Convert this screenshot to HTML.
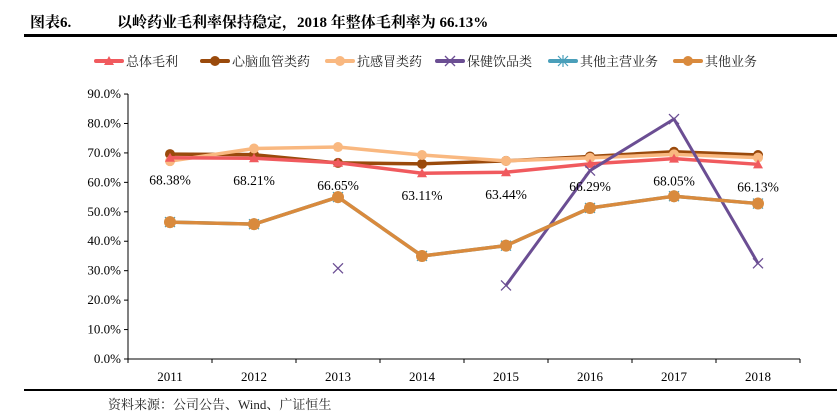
<!DOCTYPE html>
<html><head><meta charset="utf-8"><style>
body{margin:0;background:#fff;width:837px;height:415px;overflow:hidden;font-family:"Liberation Serif","Noto Serif CJK SC",serif;}
</style></head><body>
<svg width="837" height="415" xmlns="http://www.w3.org/2000/svg">
<text x="30" y="27" font-size="15" font-weight="bold" font-family="Liberation Serif,Noto Serif CJK SC,serif">图表6.</text>
<text x="117" y="27" font-size="15" font-weight="bold" font-family="Liberation Serif,Noto Serif CJK SC,serif">以岭药业毛利率保持稳定，2018 年整体毛利率为 66.13%</text>
<rect x="24" y="34" width="813" height="3" fill="#000"/>
<rect x="24" y="389" width="813" height="2" fill="#000"/>
<text x="108" y="409" font-size="13" fill="#222">资料来源：公司公告、Wind、广证恒生</text>
<g id="legend"></g>
<g id="axes"></g>
<g id="plot"></g>
</svg>
<script>
const categories=["2011","2012","2013","2014","2015","2016","2017","2018"];
const yTicks=[0,10,20,30,40,50,60,70,80,90];
const totalMargin=[68.38,68.21,66.65,63.11,63.44,66.29,68.05,66.13];
const totalLabels=["68.38%","68.21%","66.65%","63.11%","63.44%","66.29%","68.05%","66.13%"];
const cardio=[69.6,69.4,66.6,66.3,67.3,68.8,70.4,69.3];
const coldMed=[67.2,71.5,72.0,69.3,67.3,68.3,69.5,68.4];
const health=[null,null,30.8,null,25.0,64.0,81.5,32.5];
const otherMain=[46.5,45.8,55.0,35.0,38.5,51.3,55.3,52.8];
const otherBiz=[46.5,45.8,55.0,35.0,38.5,51.3,55.3,52.8];
const NS="http://www.w3.org/2000/svg";
const X0=128,STEP=84,Y0=359,YPER=2.944;
const xs=i=>X0+STEP*(i+0.5), ys=v=>Y0-v*YPER;
function el(t,a,p){const e=document.createElementNS(NS,t);for(const k in a)e.setAttribute(k,a[k]);p.appendChild(e);return e;}
const axes=document.getElementById('axes'),plot=document.getElementById('plot'),leg=document.getElementById('legend');
let yl=el('line',{x1:X0,y1:ys(90),x2:X0,y2:Y0,stroke:'#000','stroke-width':1},axes);

let xl=el('line',{x1:X0,y1:Y0,x2:X0+STEP*8,y2:Y0,stroke:'#000','stroke-width':1},axes);

yTicks.forEach(v=>{el('line',{x1:X0-4,y1:ys(v),x2:X0,y2:ys(v),stroke:'#000'},axes);
const t=el('text',{x:X0-7,y:ys(v)+4,'text-anchor':'end','font-size':13},axes);t.textContent=v.toFixed(1)+'%';
});
for(let i=0;i<=8;i++)el('line',{x1:X0+STEP*i,y1:Y0,x2:X0+STEP*i,y2:Y0+4,stroke:'#000'},axes);
categories.forEach((c,i)=>{const t=el('text',{x:xs(i),y:381,'text-anchor':'middle','font-size':13},axes);t.textContent=c;
});
function marker(type,x,y,color,g){
 if(type==='tri')el('path',{d:`M${x},${y-5}L${x+5},${y+4}L${x-5},${y+4}Z`,fill:color},g);
 else if(type==='dot')el('circle',{cx:x,cy:y,r:5,fill:color},g);
 else if(type==='bigdot')el('circle',{cx:x,cy:y,r:6,fill:color},g);
 else if(type==='x'){el('path',{d:`M${x-5},${y-5}L${x+5},${y+5}M${x+5},${y-5}L${x-5},${y+5}`,stroke:color,'stroke-width':1.3},g);}
 else if(type==='star'){el('path',{d:`M${x-5},${y-5}L${x+5},${y+5}M${x+5},${y-5}L${x-5},${y+5}M${x},${y-6}V${y+6}`,stroke:color,'stroke-width':1.2},g);}
}
function series(name,data,color,mk,w){
 const g=el('g',{},plot);
 let segs=[],cur=[];
 data.forEach((v,i)=>{if(v==null){if(cur.length)segs.push(cur);cur=[];}else cur.push([xs(i),ys(v)]);});
 if(cur.length)segs.push(cur);
 segs.forEach(s=>{if(s.length>1)el('polyline',{points:s.map(p=>p.join(',')).join(' '),fill:'none',stroke:color,'stroke-width':w,'stroke-linejoin':'round'},g);});
 data.forEach((v,i)=>{if(v!=null)marker(mk,xs(i),ys(v),color,g);});
}
series('series-cardio',cardio,'#9A4A0C','dot',3.5);
series('series-cold-medicine',coldMed,'#F9B880','dot',3.5);
series('series-total-margin',totalMargin,'#F05A5E','tri',3.5);
series('series-health-drinks',health,'#6B4E93','x',3);
series('series-other-main',otherMain,'#4A9FBA','star',3.5);
series('series-other-business',otherBiz,'#D98A3D','bigdot',3.5);
totalLabels.forEach((l,i)=>{const t=el('text',{x:xs(i),y:ys(totalMargin[i])+27,'text-anchor':'middle','font-size':13.5},plot);t.textContent=l;
});
const legItems=[["总体毛利",'#F05A5E','tri',96],["心脑血管类药",'#9A4A0C','dot',202],["抗感冒类药",'#F9B880','dot',327],["保健饮品类",'#6B4E93','x',437],["其他主营业务",'#4A9FBA','star',550],["其他业务",'#D98A3D','dot',675]];
legItems.forEach(([n,c,m,x])=>{const g=el('g',{},leg);
 el('line',{x1:x,y1:61,x2:x+26,y2:61,stroke:c,'stroke-width':4,'stroke-linecap':'round'},g);marker(m,x+13,61,c,g);
 const t=el('text',{x:x+30,y:66,'font-size':13,fill:'#222'},g);t.textContent=n;});
</script>
</body></html>
